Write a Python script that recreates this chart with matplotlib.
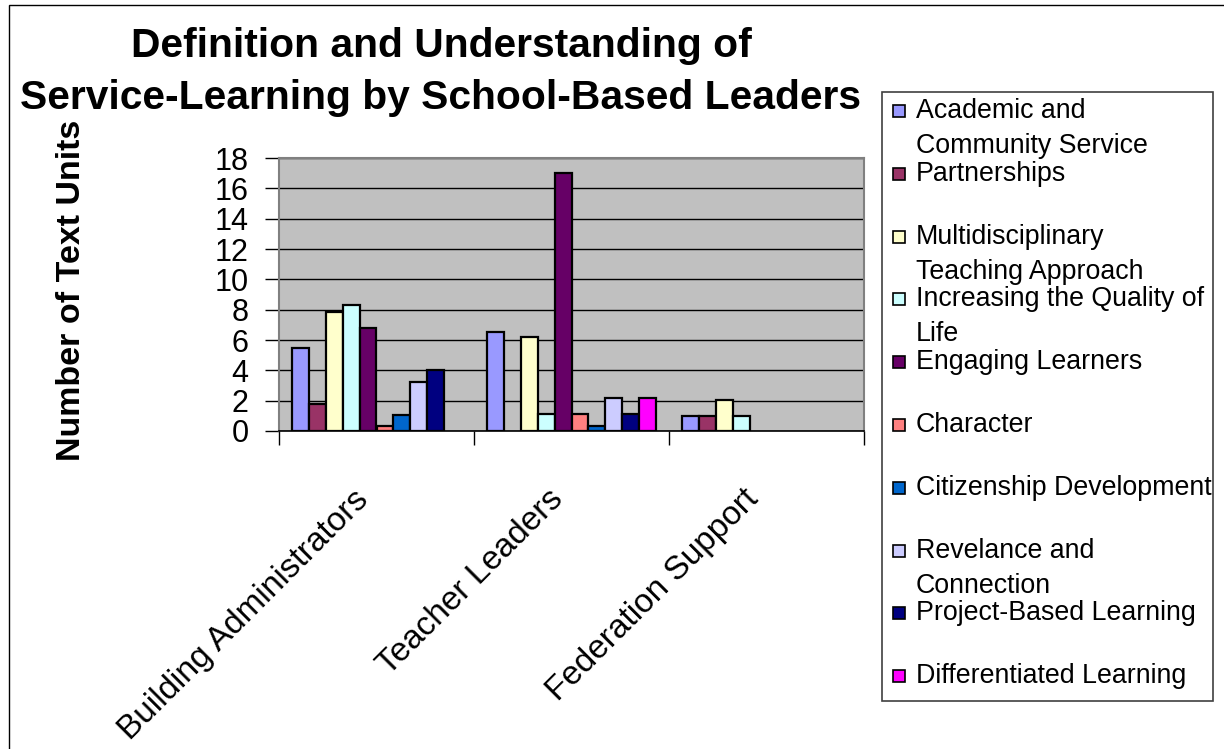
import matplotlib
matplotlib.use("Agg")
import matplotlib.pyplot as plt
import matplotlib.transforms as mtransforms
import numpy as np
from matplotlib.patches import Rectangle

plt.rcParams['font.family'] = ['Liberation Sans', 'DejaVu Sans']

categories = ["Building Administrators", "Teacher Leaders", "Federation Support"]
series_names = [
    "Academic and\nCommunity Service",
    "Partnerships",
    "Multidisciplinary\nTeaching Approach",
    "Increasing the Quality of\nLife",
    "Engaging Learners",
    "Character",
    "Citizenship Development",
    "Revelance and\nConnection",
    "Project-Based Learning",
    "Differentiated Learning",
]
academic = [5.45, 6.5, 1.0]
partnerships = [1.75, 0.0, 1.0]
multidisciplinary = [7.85, 6.2, 2.05]
quality_of_life = [8.3, 1.1, 1.0]
engaging = [6.8, 17.0, 0.0]
character = [0.3, 1.1, 0.0]
citizenship = [1.05, 0.3, 0.0]
relevance = [3.25, 2.2, 0.0]
project_based = [4.0, 1.1, 0.0]
differentiated = [0.0, 2.2, 0.0]
series_values = [academic, partnerships, multidisciplinary, quality_of_life, engaging,
                 character, citizenship, relevance, project_based, differentiated]
colors = ["#9999FF", "#993366", "#FFFFCC", "#CCFFFF", "#660066",
          "#FF8080", "#0066CC", "#CCCCFF", "#000080", "#FF00FF"]
yticks = [0, 2, 4, 6, 8, 10, 12, 14, 16, 18]

W, H = 1224, 749
fig = plt.figure(figsize=(W / 100, H / 100), dpi=100)
fig.patch.set_facecolor("white")

# figure frame
fig.add_artist(Rectangle((9 / W, -0.01), 1.05, 1 - 5 / H + 0.01, transform=fig.transFigure,
                         fill=False, edgecolor="black", linewidth=1.0))

ax = fig.add_axes([279 / W, 1 - 431 / H, (864 - 279) / W, (431 - 158) / H])
ax.set_facecolor("#C0C0C0")

n = len(series_values)
group_frac = 0.87
bw = group_frac / n
x = np.arange(len(categories))
for i, (vals, c) in enumerate(zip(series_values, colors)):
    offs = -group_frac / 2 + bw * (i + 0.5)
    bars = ax.bar(x + offs, vals, width=bw, color=c, edgecolor="black", linewidth=1.6, zorder=3)
    for b, v in zip(bars, vals):
        if v == 0:
            b.set_linewidth(0)

ax.set_xlim(-0.5, len(categories) - 0.5)
ax.set_ylim(0, 18)
ax.set_yticks(yticks)
ax.set_yticklabels([str(v) for v in yticks], fontsize=22)
ax.yaxis.grid(True, color="black", linewidth=1.0, zorder=1)
ax.set_axisbelow(True)

ax.set_xticks(x)
ax.set_xticklabels(categories, rotation=45, ha="right", va="center",
                   rotation_mode="anchor", fontsize=24)
ax.tick_params(axis="x", which="major", length=0, pad=46)
shift = mtransforms.ScaledTranslation(-13 / 100, 0, fig.dpi_scale_trans)
for lab in ax.get_xticklabels():
    lab.set_transform(lab.get_transform() + shift)
ax.set_xticks(np.arange(len(categories) + 1) - 0.5, minor=True)
ax.tick_params(axis="x", which="minor", length=10, width=1, color="black")
ax.tick_params(axis="y", length=10, width=1, color="black", pad=12)

for s in ["top", "right", "left"]:
    ax.spines[s].set_color("#808080")
    ax.spines[s].set_linewidth(1.5)
ax.spines["bottom"].set_color("black")
ax.spines["bottom"].set_linewidth(1.2)

fig.text(72 / W, 1 - 290 / H, "Number of Text Units", rotation=90, ha="center", va="center",
         fontsize=24.5, fontweight="bold")

fig.text(441 / W, 1 - 46 / H, "Definition and Understanding of", ha="center", va="center",
         fontsize=29.3, fontweight="bold")
fig.text(441 / W, 1 - 98 / H, "Service-Learning by School-Based Leaders", ha="center", va="center",
         fontsize=29.3, fontweight="bold")

# legend box drawn manually
lx0, ly0, lx1, ly1 = 882, 92, 1213, 701
fig.add_artist(Rectangle((lx0 / W, 1 - ly1 / H), (lx1 - lx0) / W, (ly1 - ly0) / H,
                         transform=fig.transFigure, facecolor="white", edgecolor="#404040",
                         linewidth=1.2, zorder=5))
entry_step = 62.8
line_step = 35
first_y = 111
for i, (name, c) in enumerate(zip(series_names, colors)):
    yc = first_y + i * entry_step
    sq = 12
    fig.add_artist(Rectangle((893 / W, 1 - (yc + sq / 2) / H), sq / W, sq / H,
                             transform=fig.transFigure, facecolor=c, edgecolor="black",
                             linewidth=1.2, zorder=6))
    for j, line in enumerate(name.split("\n")):
        fig.text(916 / W, 1 - (yc + j * line_step) / H, line, ha="left", va="center",
                 fontsize=19.3, zorder=7)

fig.savefig("out.png", dpi=100)
